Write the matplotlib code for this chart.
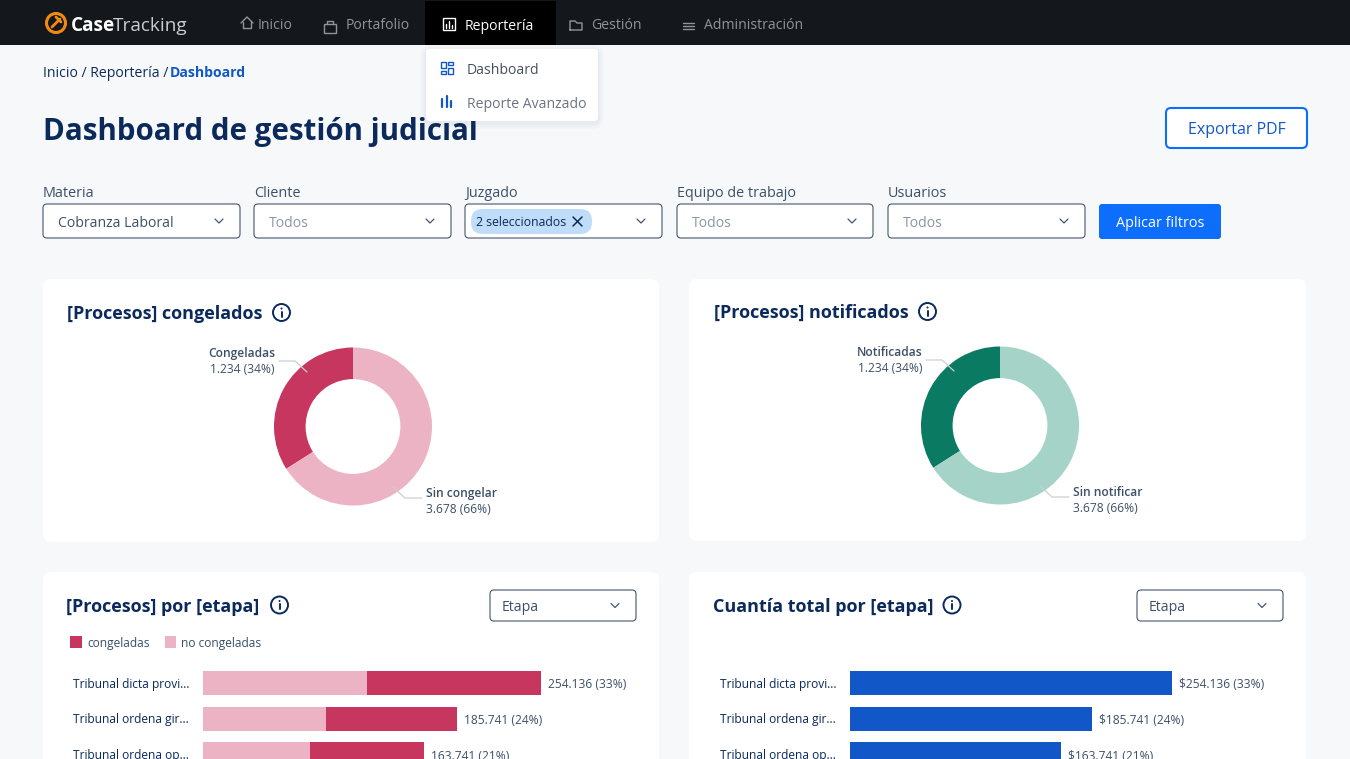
import matplotlib
matplotlib.use("Agg")
import matplotlib.pyplot as plt
from matplotlib.patches import FancyBboxPatch, Rectangle, Circle

plt.rcParams['font.family'] = ['Open Sans', 'Noto Sans', 'DejaVu Sans']

# ----------------------------------------
# Data
# ----------------------------------------

nav_items = ["Inicio", "Portafolio", "Reportería", "Gestión", "Administración"]
menu_items = ["Dashboard", "Reporte Avanzado"]
filter_names = ["Materia", "Cliente", "Juzgado", "Equipo de trabajo", "Usuarios"]
filter_values = ["Cobranza Laboral", "Todos", "", "Todos", "Todos"]

donut_shares = [34, 66]
donut_left_labels = ["Congeladas", "Sin congelar"]
donut_right_labels = ["Notificadas", "Sin notificar"]
donut_counts = ["1.234 (34%)", "3.678 (66%)"]

etapas = ["Tribunal dicta provi...", "Tribunal ordena gir...", "Tribunal ordena op..."]
no_congeladas = [123300, 92500, 80560]
congeladas = [130836, 98500, 85840]
cuantia = [254136, 191000, 166400]
proc_labels = ["254.136 (33%)", "185.741 (24%)", "163.741 (21%)"]
cuantia_labels = ["$254.136 (33%)", "$185.741 (24%)", "$163.741 (21%)"]

NAVY = "#0B2A5B"
SLATE = "#3D5068"
GREY = "#8A96A3"
LINE = "#44566C"
BLUE = "#1157C8"
BTN = "#0D6EFD"
RED = "#C7365F"
PINK = "#ECB3C4"
GREEN = "#0B7A63"
MINT = "#A5D3C7"
BG = "#F6F8FA"

W, H = 1350, 759

fig = plt.figure(figsize=(13.5, 7.59), dpi=100, facecolor=BG)
ax = fig.add_axes([0, 0, 1, 1])
ax.set_xlim(0, W)
ax.set_ylim(H, 0)
ax.axis("off")


def fs(px):
    return px * 0.72


def txt(x, y, s, px=14, color=SLATE, weight="normal", ha="left", z=5):
    return ax.text(x, y + px * 0.14, s, fontsize=fs(px), color=color, fontweight=weight,
                   ha=ha, va="center", zorder=z)


def box(x0, y0, x1, y1, r=4, fc="white", ec="none", lw=1.0, z=2, alpha=None):
    p = FancyBboxPatch((x0, y0), x1 - x0, y1 - y0,
                       boxstyle=f"round,pad=0,rounding_size={r}",
                       fc=fc, ec=ec, lw=lw, zorder=z, alpha=alpha)
    ax.add_patch(p)


def line(xs, ys, color=LINE, lw=1.0, z=6, target=None):
    (target or ax).plot(xs, ys, color=color, lw=lw, zorder=z, solid_capstyle="round",
                        solid_joinstyle="round")


def chevron(cx, cy, color=LINE):
    line([cx - 4, cx, cx + 4], [cy - 2, cy + 2, cy - 2], color=color, lw=0.9)


def info(cx, cy):
    ax.add_patch(Circle((cx, cy), 8.5, fc="none", ec=NAVY, lw=1.4, zorder=6))
    line([cx, cx], [cy - 1, cy + 4], color=NAVY, lw=1.4)
    ax.add_patch(Circle((cx, cy - 4), 1.0, fc=NAVY, ec="none", zorder=6))


def select(x0, y0, x1, y1, label, color=SLATE, pad=15, dy=0):
    box(x0, y0, x1, y1, r=4, fc="white", ec=LINE, lw=0.8)
    if label:
        txt(x0 + pad, (y0 + y1) / 2 + dy, label, px=14, color=color)
    chevron(x1 - 21, (y0 + y1) / 2)


# ----------------------------------------
# Top bar
# ----------------------------------------

ax.add_patch(Rectangle((0, 0), W, 45, fc="#14181C", ec="none", zorder=1))
ax.add_patch(Rectangle((425, 1), 131, 44, fc="#000000", ec="none", zorder=1.5))

# logo
ax.add_patch(Circle((56, 23), 9.5, fc="none", ec="#F08A12", lw=2.2, zorder=6))
line([52, 60], [27, 19], color="#F08A12", lw=2.0)
line([56, 61], [17, 22], color="#F08A12", lw=2.0)
txt(71, 23.5, "Case", px=19, color="white", weight="bold")
txt(113, 23.5, "Tracking", px=19, color="#C9CDD1")

nav_x = [258, 346, 465, 591, 704]
for name, x in zip(nav_items, nav_x):
    active = name == "Reportería"
    txt(x, 25 if active else 24, name, px=14, color="white" if active else "#8F959B")

c = "#8F959B"
# house
line([241, 247, 253], [23, 17, 23], color=c)
line([243, 243, 251, 251], [22, 28, 28, 22], color=c)
# bag
ax.add_patch(Rectangle((324, 24), 12, 9, fc="none", ec=c, lw=1, zorder=6))
line([327, 327, 333, 333], [24, 21, 21, 24], color=c)
# report
ax.add_patch(Rectangle((443, 18), 12, 12, fc="none", ec="white", lw=1, zorder=6))
for bx, top in zip([446, 449, 452], [24, 21, 25]):
    line([bx, bx], [top, 27.5], color="white", lw=1)
# folder
line([570, 570, 575, 577, 582, 582, 570], [30, 21, 21, 23, 23, 30, 30], color=c)
# menu
for by in [23, 26, 29]:
    line([683, 694], [by, by], color=c)

# ----------------------------------------
# Header
# ----------------------------------------

txt(43, 71.5, "Inicio / Reportería / ", px=14, color=NAVY)
txt(170, 71.5, "Dashboard", px=14, color=BLUE, weight="bold")
txt(43, 127.5, "Dashboard de gestión judicial", px=29.5, color=NAVY, weight="bold", z=3)

box(1166, 108, 1307, 148, r=5, fc="white", ec=BTN, lw=1.5)
txt(1236.5, 127.5, "Exportar PDF", px=16, color=BLUE, ha="center")

# dropdown with soft shadow, it covers the top of the title
for grow, alpha in zip([6, 4, 2], [0.015, 0.02, 0.03]):
    box(426 - grow, 49 - grow + 2, 598 + grow, 121 + grow + 2, r=5 + grow, fc="#30405A",
        z=3.5, alpha=alpha)
box(426, 49, 598, 121, r=4, fc="white", z=4)
txt(467, 69, menu_items[0], px=14, color="#44505C")
txt(467, 103, menu_items[1], px=14, color="#6A7580")
for gx, gy, gw, gh in [(441, 62, 4.5, 6), (448, 62, 4.5, 3), (441, 71, 4.5, 3), (448, 68, 4.5, 6)]:
    ax.add_patch(Rectangle((gx, gy), gw, gh, fc="none", ec=BLUE, lw=1.0, zorder=6))
for bx, top in zip([442, 447, 451], [99, 96, 101]):
    line([bx, bx], [top, 107], color=BLUE, lw=1.6)

# ----------------------------------------
# Filters
# ----------------------------------------

filter_x = [(43, 240), (254, 451), (465, 662), (677, 873), (888, 1085)]
for name, value, (x0, x1) in zip(filter_names, filter_values, filter_x):
    txt(x0, 191, name, px=14.4, color=SLATE)
    select(x0, 204, x1, 238, value,
           color=SLATE if value.startswith("Cob") else GREY, pad=15, dy=1)

box(471, 209, 592, 234, r=12, fc="#BFDDF8", z=5)
txt(476.5, 221, "2 seleccionados", px=12.3, color=NAVY, z=6)
line([573, 582], [217, 226], color=NAVY, lw=1.1)
line([573, 582], [226, 217], color=NAVY, lw=1.1)

box(1099, 204, 1221, 239, r=3, fc=BTN)
txt(1160, 221, "Aplicar filtros", px=14.4, color="white", ha="center")

# ----------------------------------------
# Cards
# ----------------------------------------

box(43, 279, 659, 542, r=8)
box(689, 279, 1306, 541, r=8)
box(43, 572, 659, 790, r=8)
box(689, 572, 1306, 790, r=8)

txt(67, 311.5, "[Procesos] congelados", px=18, color=NAVY, weight="bold")
info(281.5, 312.5)
txt(713.5, 310.5, "[Procesos] notificados", px=18, color=NAVY, weight="bold")
info(927.5, 311.5)
txt(66, 604, "[Procesos] por [etapa]", px=18, color=NAVY, weight="bold")
info(279.5, 605)
txt(713, 604, "Cuantía total por [etapa]", px=18, color=NAVY, weight="bold")
info(952, 605)

select(490, 590, 636, 621, "Etapa", pad=12)
select(1137, 590, 1283, 621, "Etapa", pad=12)

ax.add_patch(Rectangle((70, 636), 12, 12, fc=RED, ec="none", zorder=5))
txt(87, 641.5, "congeladas", px=12, color=SLATE)
ax.add_patch(Rectangle((165, 636), 11, 12, fc=PINK, ec="none", zorder=5))
txt(181, 641.5, "no congeladas", px=12, color=SLATE)


# ----------------------------------------
# Donuts
# ----------------------------------------

def donut(cx, cy, r, colors):
    a = fig.add_axes([(cx - r) / W, 1 - (cy + r) / H, 2 * r / W, 2 * r / H])
    a.pie(donut_shares, colors=colors, startangle=90, radius=1.0, counterclock=True,
          wedgeprops={"width": 0.40, "linewidth": 0})
    a.set_xlim(-1, 1)
    a.set_ylim(-1, 1)
    a.patch.set_alpha(0)


donut(353, 426.5, 79, [RED, PINK])
donut(1000, 425.5, 79, [GREEN, MINT])

# leader lines go over the donuts, so they need their own layer
overlay = fig.add_axes([0, 0, 1, 1], zorder=10)
overlay.set_xlim(0, W)
overlay.set_ylim(H, 0)
overlay.axis("off")


def donut_labels(dx, dy, labels):
    lc = "#C9D0D8"
    line([279 + dx, 295 + dx, 307 + dx], [361 + dy, 361 + dy, 372 + dy], color=lc, lw=0.9,
         target=overlay)
    line([393 + dx, 405 + dx, 422 + dx], [487 + dy, 498 + dy, 498 + dy], color=lc, lw=0.9,
         target=overlay)
    txt(275 + dx, 352 + dy, labels[0], px=12, color=SLATE, ha="right", weight="semibold")
    txt(275 + dx, 368 + dy, donut_counts[0], px=12, color=SLATE, ha="right")
    txt(426 + dx, 491.5 + dy, labels[1], px=12, color=SLATE, weight="semibold")
    txt(426 + dx, 507.5 + dy, donut_counts[1], px=12, color=SLATE)


donut_labels(0, 0, donut_left_labels)
donut_labels(647, -1, donut_right_labels)


# ----------------------------------------
# Bars
# ----------------------------------------

def bar_axes(x0, px_per_unit, label_x):
    # axes run to the bottom edge of the figure, last row gets clipped there
    top, first, step = 662, 683.0, 35.5
    right = 640 + (x0 - 203)
    a = fig.add_axes([x0 / W, 0, (right - x0) / W, (H - top) / H])
    a.set_xlim(0, (right - x0) * px_per_unit)
    a.set_ylim((H - first) / step, (top - first) / step)
    a.patch.set_alpha(0)
    for s in a.spines.values():
        s.set_visible(False)
    a.set_xticks([])
    a.set_yticks(range(len(etapas)))
    a.set_yticklabels(etapas, fontsize=fs(12), color=NAVY, ha="left")
    a.tick_params(axis="y", length=0, pad=(x0 - label_x) * 0.72)
    return a


pos = list(range(len(etapas)))
label_dy = 2 / 35.5
scale_l = 254136 / 338
ax_l = bar_axes(203, scale_l, 73)
ax_l.barh(pos, no_congeladas, height=24 / 35.5, color=PINK)
ax_l.barh(pos, congeladas, left=no_congeladas, height=24 / 35.5, color=RED)
for i, (a_, b_) in enumerate(zip(no_congeladas, congeladas)):
    ax_l.text(a_ + b_ + 7 * scale_l, i + label_dy, proc_labels[i], fontsize=fs(12), color=SLATE,
              va="center", clip_on=False)

scale_r = 254136 / 322
ax_r = bar_axes(850, scale_r, 720)
ax_r.barh(pos, cuantia, height=24 / 35.5, color=BLUE)
for i, v in enumerate(cuantia):
    ax_r.text(v + 7 * scale_r, i + label_dy, cuantia_labels[i], fontsize=fs(12), color=SLATE,
              va="center", clip_on=False)

fig.savefig("out.png", dpi=100, facecolor=BG)
